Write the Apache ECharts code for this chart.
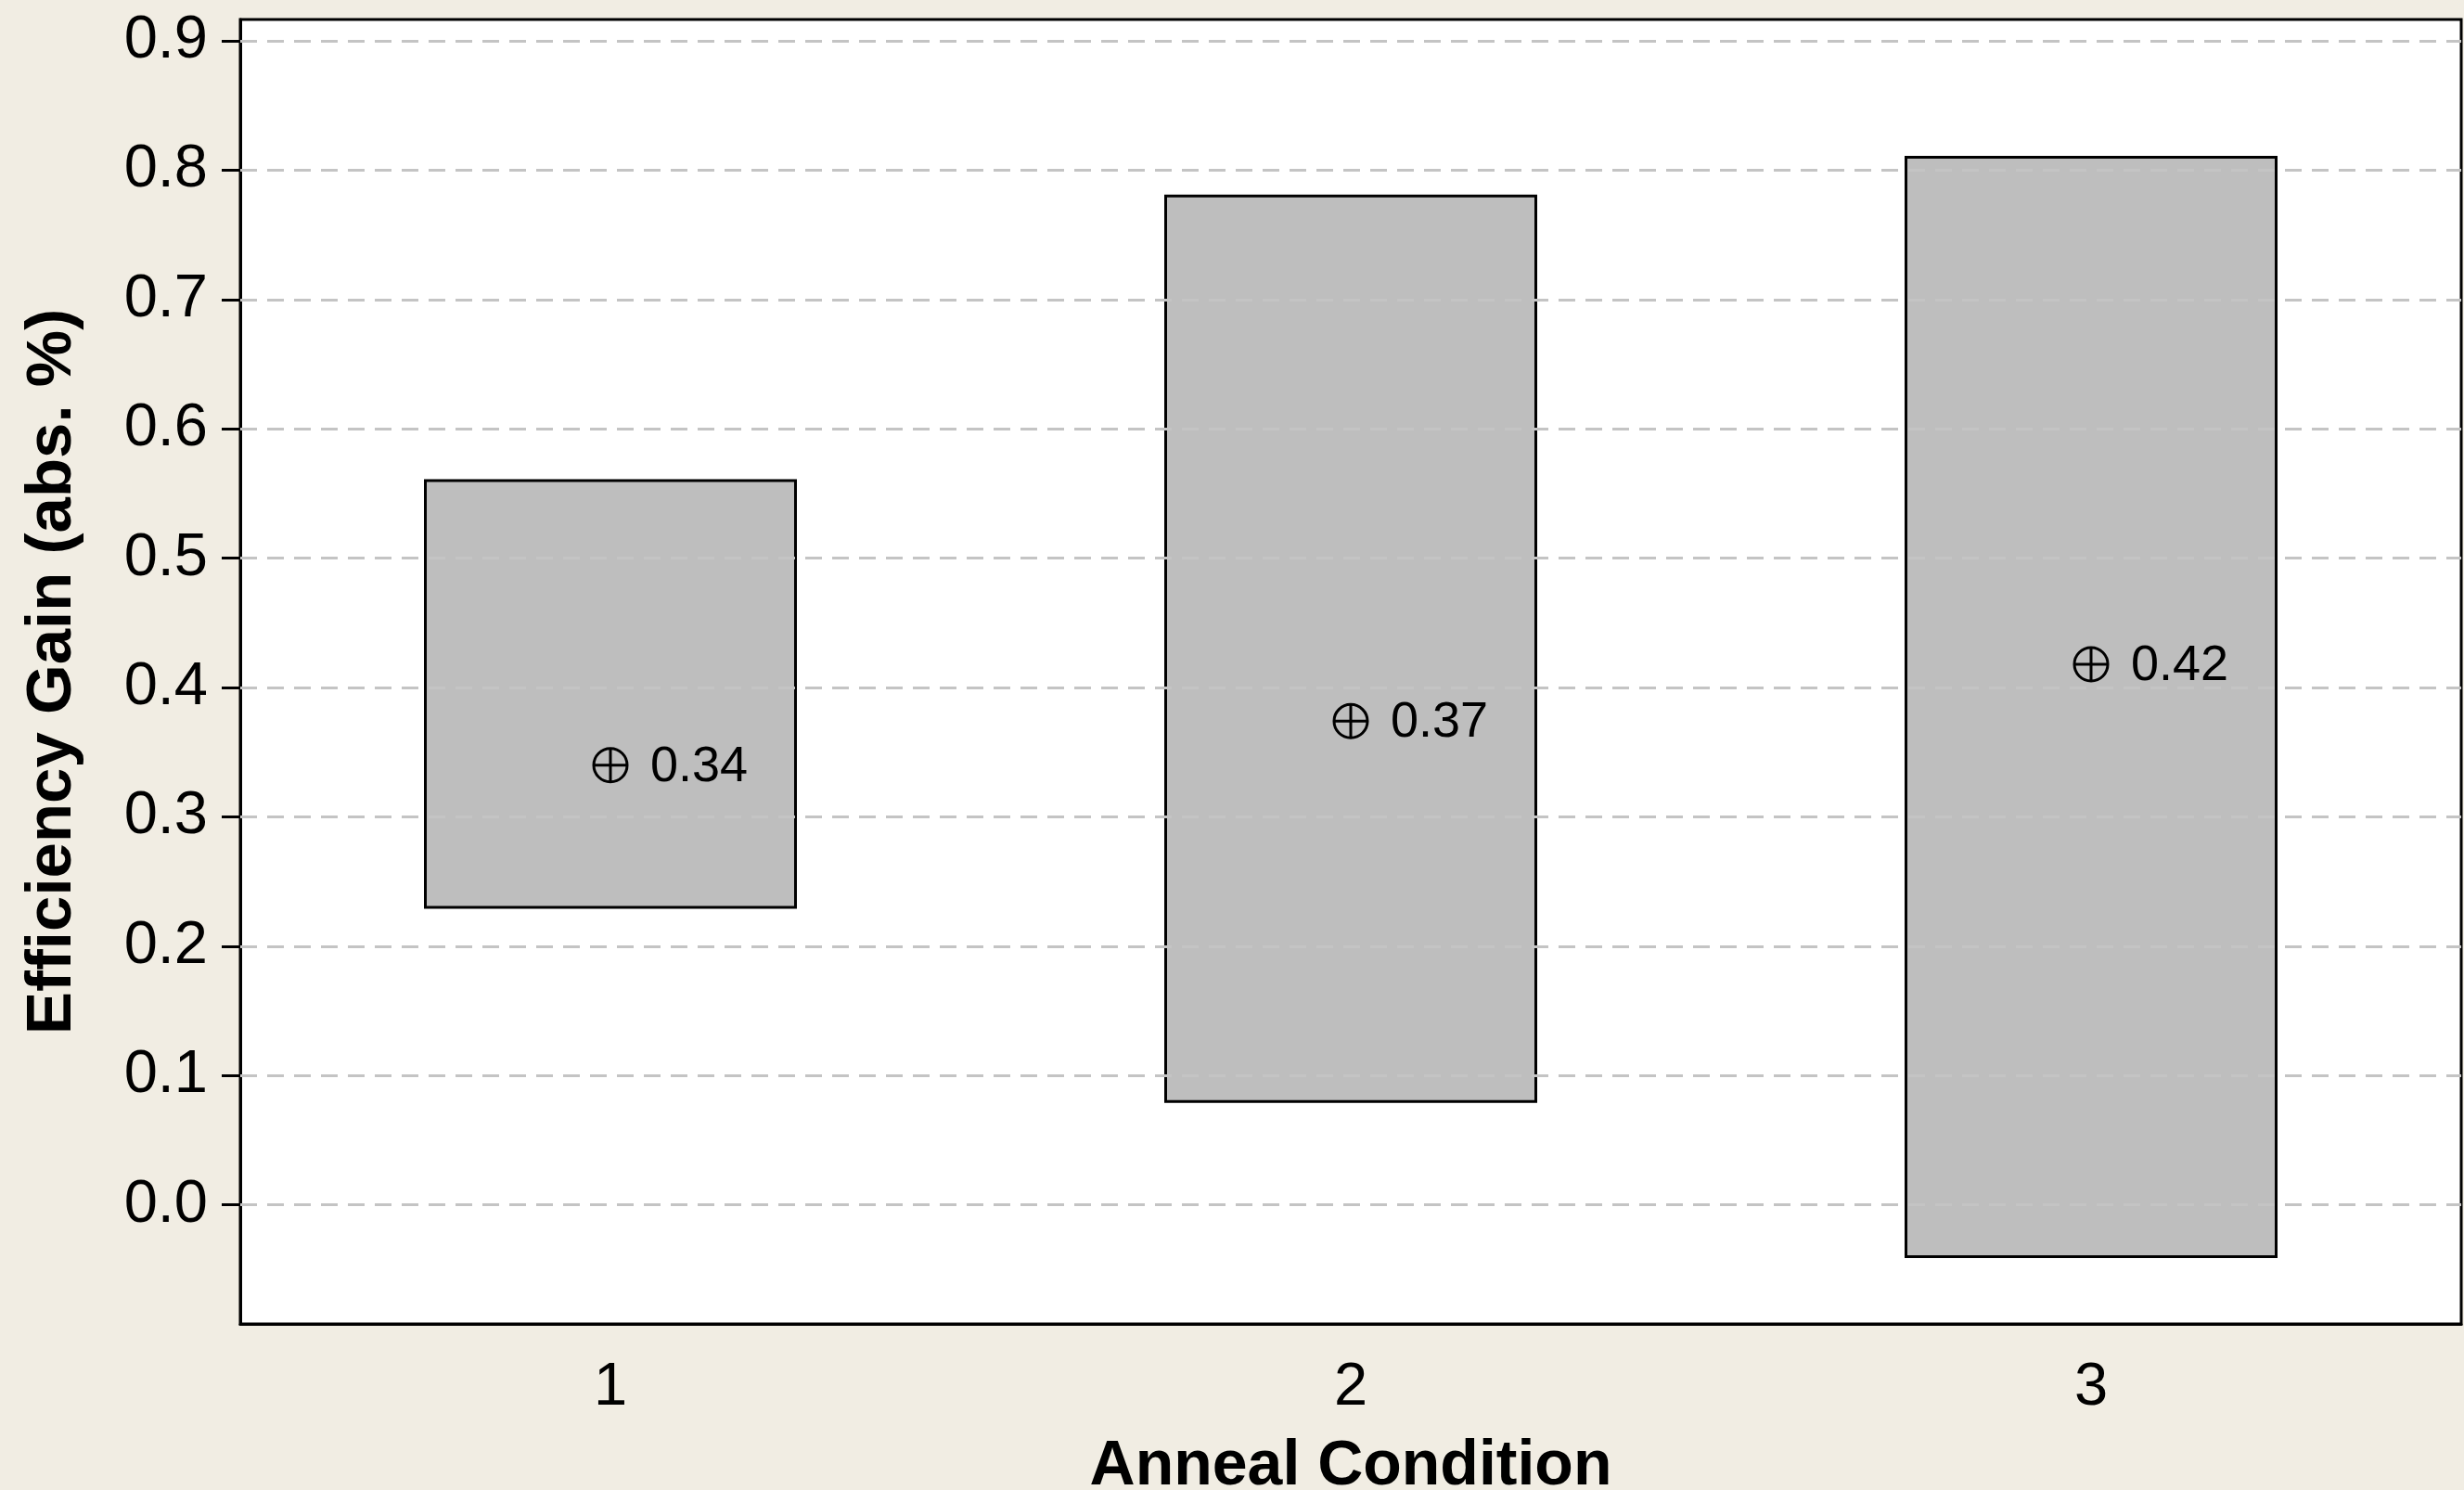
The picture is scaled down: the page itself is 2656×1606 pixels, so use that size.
<!DOCTYPE html>
<html>
<head>
<meta charset="utf-8">
<script src="https://cdn.jsdelivr.net/npm/echarts@6/dist/echarts.min.js"></script>
<style>
html, body { margin: 0; padding: 0; background: #f1ede3; }
#chart { width: 2656px; height: 1606px; }
</style>
</head>
<body>
<div id="chart"></div>
<script>
var categories = ['1', '2', '3'];
var boxLow = [0.23, 0.08, -0.04];
var boxHigh = [0.56, 0.78, 0.81];
var means = [0.340, 0.374, 0.418];
var yTicks = [0, 0.1, 0.2, 0.3, 0.4, 0.5, 0.6, 0.7, 0.8, 0.9];

var font = 'Liberation Sans';

var boxData = categories.map(function (c, i) {
    return [i, boxLow[i], boxHigh[i]];
});
var meanData = categories.map(function (c, i) {
    return [i, means[i]];
});

var dom = document.getElementById("chart");
var myChart = echarts.init(dom);
var option = {
    backgroundColor: '#f1ede3',
    animation: false,
    grid: {
        left: 259,
        top: 21,
        right: 3,
        bottom: 179,
        containLabel: false,
        outerBoundsMode: 'none',
        show: true,
        backgroundColor: '#ffffff',
        borderColor: '#000000',
        borderWidth: 3
    },
    xAxis: {
        type: 'category',
        data: categories,
        boundaryGap: true,
        name: 'Anneal Condition',
        nameLocation: 'middle',
        nameGap: 120,
        nameTextStyle: { fontFamily: font, fontWeight: 'bold', fontSize: 68, color: '#000' },
        axisLine: { onZero: false, lineStyle: { color: '#000', width: 3 } },
        axisTick: { alignWithLabel: true, length: 21, lineStyle: { color: '#000', width: 3 } },
        axisLabel: { fontFamily: font, fontSize: 65, color: '#000', margin: 37 },
        splitLine: { show: false }
    },
    yAxis: {
        type: 'value',
        min: -0.092,
        max: 0.9165,
        name: 'Efficiency Gain (abs. %)',
        nameLocation: 'middle',
        nameGap: 168,
        nameTextStyle: { fontFamily: font, fontWeight: 'bold', fontSize: 69, color: '#000' },
        axisLine: { show: true, lineStyle: { color: '#000', width: 3 } },
        axisTick: {
            show: true, length: 20, customValues: yTicks,
            lineStyle: { color: '#000', width: 3 }
        },
        axisLabel: {
            fontFamily: font, fontSize: 65, color: '#000', margin: 35,
            customValues: yTicks,
            formatter: function (v) { return v.toFixed(1); }
        },
        splitLine: { show: false }
    },
    series: [
        {
            // dashed reference lines at each tick
            type: 'line',
            data: [],
            z: 1,
            silent: true,
            markLine: {
                silent: true,
                symbol: 'none',
                label: { show: false },
                lineStyle: { color: '#c4c4c4', width: 3, type: [18, 11] },
                data: yTicks.map(function (v) { return { yAxis: v }; })
            }
        },
        {
            name: 'range',
            type: 'custom',
            z: 3,
            data: boxData,
            renderItem: function (params, api) {
                var lo = api.coord([api.value(0), api.value(1)]);
                var hi = api.coord([api.value(0), api.value(2)]);
                var w = api.size([1, 0])[0] * 0.5;
                return {
                    type: 'rect',
                    shape: { x: lo[0] - w / 2, y: hi[1], width: w, height: lo[1] - hi[1] },
                    style: { fill: '#bebebe', stroke: '#000', lineWidth: 3 }
                };
            }
        },
        {
            name: 'mean',
            type: 'custom',
            z: 4,
            data: meanData,
            renderItem: function (params, api) {
                var p = api.coord([api.value(0), api.value(1)]);
                var r = 18;
                var st = { fill: null, stroke: '#000', lineWidth: 3 };
                return {
                    type: 'group',
                    children: [
                        { type: 'circle', shape: { cx: p[0], cy: p[1], r: r }, style: st },
                        { type: 'line', shape: { x1: p[0] - r, y1: p[1], x2: p[0] + r, y2: p[1] }, style: st },
                        { type: 'line', shape: { x1: p[0], y1: p[1] - r, x2: p[0], y2: p[1] + r }, style: st },
                        {
                            type: 'text',
                            style: {
                                x: p[0] + 43, y: p[1] + 2,
                                text: api.value(1).toFixed(2),
                                fontFamily: font, fontSize: 54, fill: '#000',
                                verticalAlign: 'middle', align: 'left'
                            }
                        }
                    ]
                };
            }
        }
    ]
};
myChart.setOption(option);
</script>
</body>
</html>
